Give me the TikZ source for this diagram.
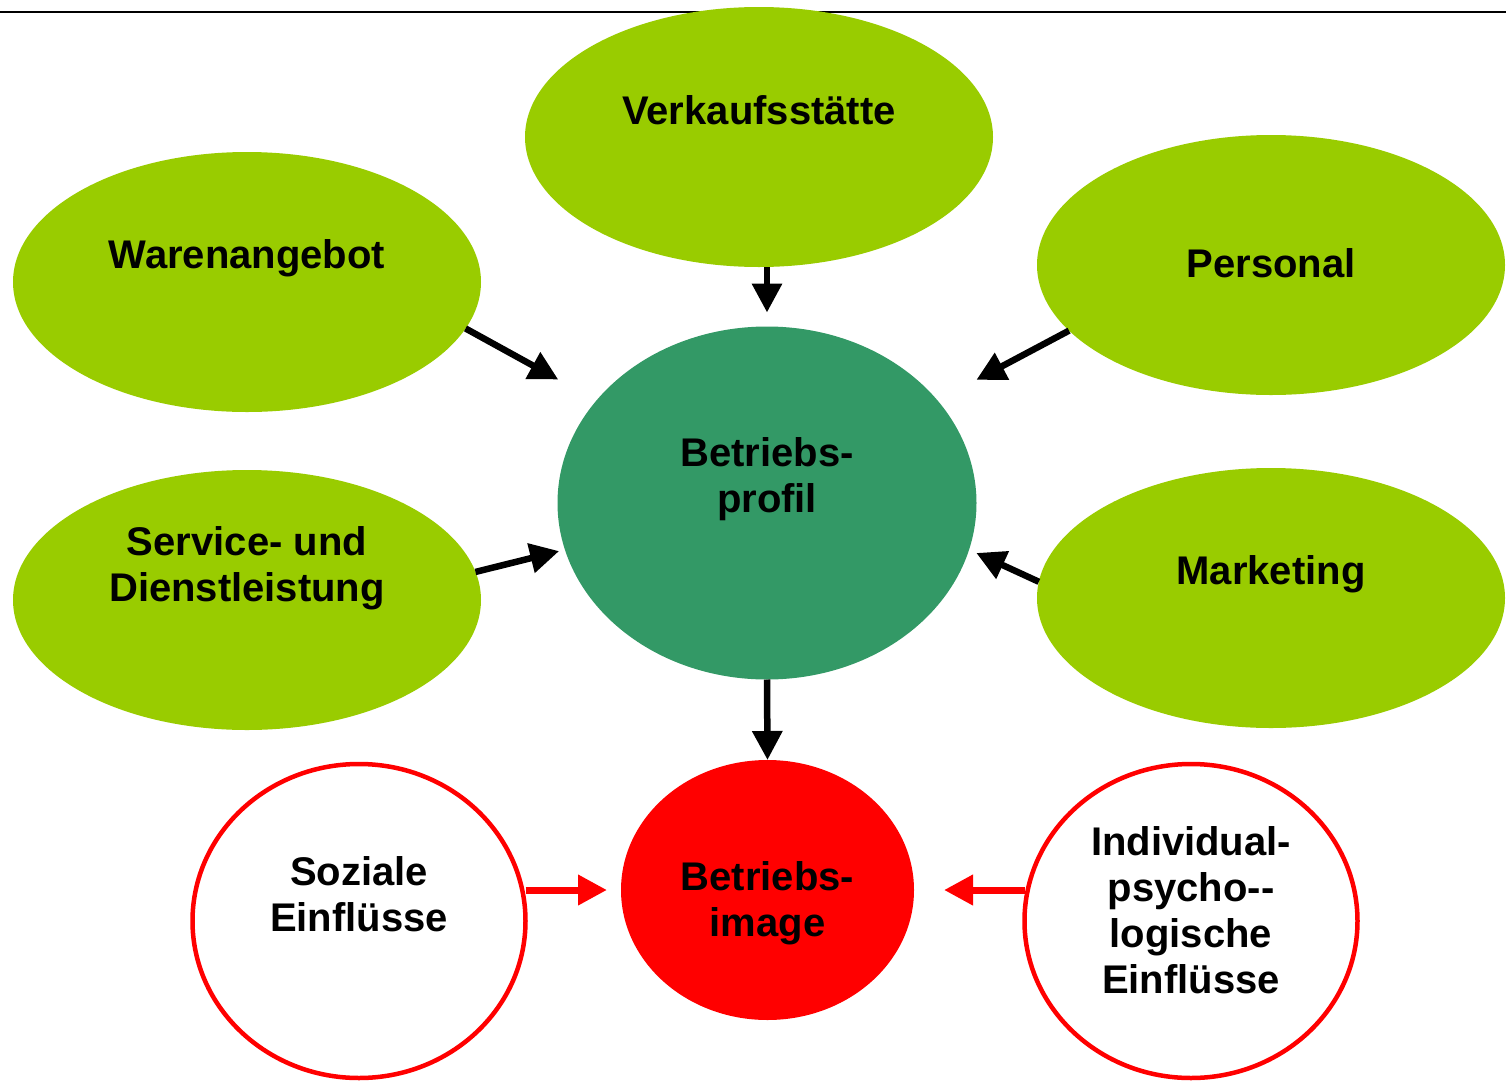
\documentclass[tikz,border=0pt]{standalone}
\usepackage{fontspec}
\setmainfont{Liberation Sans}
\usetikzlibrary{shapes.geometric,arrows.meta}
\definecolor{leafgreen}{RGB}{153,204,0}
\definecolor{profilgreen}{RGB}{51,153,102}
\definecolor{imagered}{RGB}{255,0,0}
\tikzset{
  every label/.style={align=center},
  factor/.style={ellipse,fill=leafgreen,inner sep=0pt,outer sep=0pt,
    minimum width=234pt,minimum height=130pt},
  profilbox/.style={ellipse,fill=profilgreen,inner sep=0pt,outer sep=0pt,
    minimum width=209.5pt,minimum height=176.5pt},
  imagebox/.style={ellipse,fill=imagered,inner sep=0pt,outer sep=0pt,
    minimum width=146.5pt,minimum height=130pt},
  influence/.style={ellipse,draw=imagered,fill=white,line width=2.25pt,
    inner sep=0pt,outer sep=0pt,minimum width=166.5pt,minimum height=157pt},
  arr/.style={-{Triangle[length=14.5pt,width=14.5pt]},line width=3.25pt},
  redarr/.style={arr,draw=imagered,fill=imagered,line width=3.5pt}
}
\begin{document}
\begin{tikzpicture}[x=0.5pt,y=-0.5pt,font=\bfseries\fontsize{20}{23}\selectfont]
    \useasboundingbox (0,0) rectangle (1506,1082);
    % Rule
    \draw[line width=1pt] (0,12) -- (1506,12);
    % Factors
    \node[factor,label={[yshift=13.5pt]center:Verkaufsstätte}] (verk) at (759,137) {};
    \node[factor,label={[yshift=12pt]center:Warenangebot}] (ware) at (247,282) {};
    \node[factor,label={[yshift=1pt]center:Personal}] (pers) at (1271,265) {};
    \node[factor,label={[yshift=16pt]center:Service- und\\Dienstleistung}] (serv) at (247,600) {};
    \node[factor,label={[yshift=12pt]center:Marketing}] (mark) at (1271,598) {};
    % Profile and image
    \node[profilbox,label={[yshift=12pt]center:Betriebs-\\profil}] (profil) at (767,503) {};
    \node[imagebox,label={[yshift=-6.5pt]center:Betriebs-\\image}] (image) at (767.5,890) {};
    % Influences
    \node[influence,label={[yshift=13.5pt]center:Soziale\\Einflüsse}] (sozial) at (359,921) {};
    \node[influence,label={[yshift=5.5pt]center:Individual-\\psycho-{}-\\logische\\Einflüsse}] (indiv) at (1191,921) {};
    % Arrows
    \draw[arr,shorten >=7pt] (profil.north |- verk.south) -- (profil.north);
    \draw[arr,shorten >=21.8pt] (ware.-12.5) -- (profil.149);
    \draw[arr,shorten >=22pt] (pers.198) -- (profil.31);
    \draw[arr,shorten >=3pt] (serv.7) -- (profil.193.5);
    \draw[arr,shorten >=4pt] (mark.176.8) -- (profil.-13.7);
    \draw[arr] (profil.south) -- (image.north);
    \draw[redarr,shorten >=7pt] (sozial.east |- image.west) -- (image.west);
    \draw[redarr,shorten >=15pt] (indiv.west |- image.east) -- (image.east);
\end{tikzpicture}
\end{document}
